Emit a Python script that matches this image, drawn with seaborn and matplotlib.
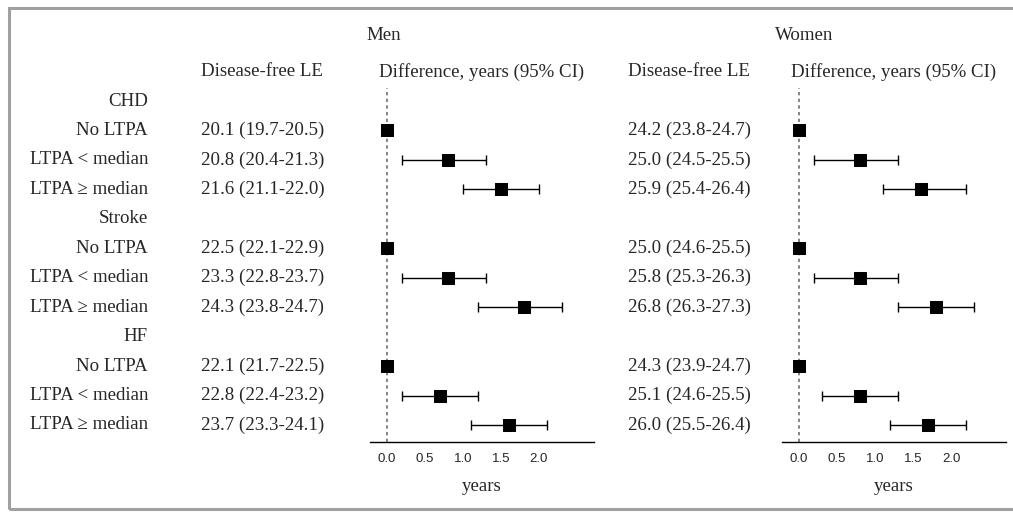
import seaborn as sns
import matplotlib.pyplot as plt
import pandas as pd
from matplotlib.transforms import blended_transform_factory
from matplotlib.patches import Rectangle

# data
outcomes = ["CHD", "Stroke", "HF"]
groups = ["No LTPA", "LTPA < median", "LTPA \u2265 median"]

men_le = ["20.1 (19.7-20.5)", "20.8 (20.4-21.3)", "21.6 (21.1-22.0)",
          "22.5 (22.1-22.9)", "23.3 (22.8-23.7)", "24.3 (23.8-24.7)",
          "22.1 (21.7-22.5)", "22.8 (22.4-23.2)", "23.7 (23.3-24.1)"]
women_le = ["24.2 (23.8-24.7)", "25.0 (24.5-25.5)", "25.9 (25.4-26.4)",
            "25.0 (24.6-25.5)", "25.8 (25.3-26.3)", "26.8 (26.3-27.3)",
            "24.3 (23.9-24.7)", "25.1 (24.6-25.5)", "26.0 (25.5-26.4)"]

men_diff = [0, 0.8, 1.5, 0, 0.8, 1.8, 0, 0.7, 1.6]
men_lo = [0, 0.2, 1.0, 0, 0.2, 1.2, 0, 0.2, 1.1]
men_hi = [0, 1.3, 2.0, 0, 1.3, 2.3, 0, 1.2, 2.1]

women_diff = [0, 0.8, 1.6, 0, 0.8, 1.8, 0, 0.8, 1.7]
women_lo = [0, 0.2, 1.1, 0, 0.2, 1.3, 0, 0.3, 1.2]
women_hi = [0, 1.3, 2.2, 0, 1.3, 2.3, 0, 1.3, 2.2]

xticks = [0.0, 0.5, 1.0, 1.5, 2.0]

sns.set_theme(style="white")
serif = ["Liberation Serif", "DejaVu Serif"]
sans = ["Liberation Sans", "DejaVu Sans"]
plt.rcParams['font.family'] = serif
FS = 13.6

W, H = 1013, 512
fig = plt.figure(figsize=(W / 100, H / 100), dpi=100)
fig.patch.set_facecolor("white")

# gray frame, open on the right
fig.patches.append(Rectangle((9 / W, 3 / H), 1.2, (509 - 8) / H, transform=fig.transFigure,
                             fill=False, edgecolor="#a0a0a0", linewidth=2.2))

rows = []
for k, o in enumerate(outcomes):
    for j, g in enumerate(groups):
        rows.append(4 * k + 1 + j)


def make_panel(x0, le, diff, lo, hi, title, le_x, title_x):
    ax = fig.add_axes([x0 / W, 1 - 442 / H, 224 / W, (442 - 88) / H])
    df = pd.DataFrame({"row": rows, "diff": diff, "lo": lo, "hi": hi})
    ax.axvline(0, color="#707070", lw=1.2, ls=(0, (2, 2)), zorder=1)
    ci = df[df["hi"] > df["lo"]]
    ax.errorbar(ci["diff"], ci["row"],
                xerr=[ci["diff"] - ci["lo"], ci["hi"] - ci["diff"]],
                fmt="none", ecolor="black", elinewidth=1.0, capsize=3.5,
                capthick=1.0, zorder=2)
    sns.scatterplot(data=df, x="diff", y="row", marker="s", s=85, color="black",
                    edgecolor="black", ax=ax, zorder=3, legend=False)
    ax.set_xlim(-17 / 76, 207 / 76)
    ax.set_ylim(11 + 17 / 29.45, -13 / 29.45)
    ax.set_xticks(xticks)
    ax.set_xticklabels([f"{t:.1f}" for t in xticks], family=sans, fontsize=9.5)
    ax.tick_params(axis="x", length=0, pad=8)
    ax.set_yticks([])
    for s in ["top", "left", "right"]:
        ax.spines[s].set_visible(False)
    ax.spines["bottom"].set_color("black")
    ax.spines["bottom"].set_linewidth(1.0)
    ax.set_xlabel("years", fontsize=FS, labelpad=9)
    ax.set_ylabel("")
    ax.set_facecolor("none")

    tr = blended_transform_factory(fig.transFigure, ax.transData)
    for r, s in zip(rows, le):
        fig.text(le_x / W, r, s, transform=tr, ha="left", va="center", fontsize=FS)
    fig.text(title_x / W, 1 - 33 / H, title, ha="center", va="center_baseline", fontsize=FS)
    fig.text((le_x + 61) / W, 1 - 70 / H, "Disease-free LE", ha="center",
             va="center_baseline", fontsize=FS)
    fig.text((x0 + 112) / W, 1 - 70 / H, "Difference, years (95% CI)",
             ha="center", va="center_baseline", fontsize=FS)
    return ax


ax_m = make_panel(370, men_le, men_diff, men_lo, men_hi, "Men", 201, 384)
ax_w = make_panel(782, women_le, women_diff, women_lo, women_hi, "Women", 628, 804)

tr = blended_transform_factory(fig.transFigure, ax_m.transData)
for k, o in enumerate(outcomes):
    fig.text(148 / W, 4 * k, o, transform=tr, ha="right", va="center", fontsize=FS)
    for j, g in enumerate(groups):
        fig.text(148 / W, 4 * k + 1 + j, g, transform=tr, ha="right", va="center",
                 fontsize=FS)

fig.savefig("out.png", dpi=100)
